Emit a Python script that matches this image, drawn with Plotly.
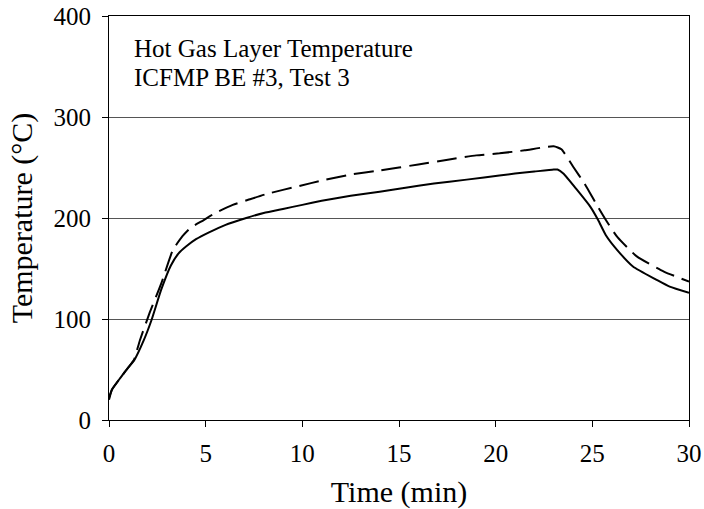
import plotly.graph_objects as go

# Data (time in min, temperature in °C)
time_solid = [0, 0.15, 0.6, 1.0, 1.3, 1.8, 2.2, 2.7, 3.2, 3.6, 4.0, 4.5, 5.2, 6.0, 7.1, 8.0, 9.0,
              10.0, 11.0, 12.5, 14.0, 15.0, 16.0, 17.6, 19.4, 21.0, 22.0, 23.0, 23.2, 23.5, 24.2,
              24.9, 25.3, 25.7, 26.3, 27.1, 28.3, 29.0, 30.0]
temp_solid = [20, 30, 42, 52, 59, 79, 99, 129, 153, 165, 172, 179, 186, 193, 200, 205, 209,
              213, 217, 222, 226, 229, 232, 236, 240, 244, 246, 248, 248, 244, 228,
              211, 198, 183, 168, 152, 139, 132, 126]

time_dash = [0, 0.15, 0.6, 1.0, 1.3, 1.6, 2.1, 2.7, 3.3, 3.8, 4.2, 4.9, 5.5, 6.4, 7.2, 8.2, 9.9,
             11.0, 12.5, 14.0, 15.0, 16.0, 17.6, 19.0, 20.2, 21.5, 23.0, 23.4, 24.0, 24.6, 25.2,
             25.7, 26.3, 27.3, 28.7, 30.0]
temp_dash = [22, 30, 42, 52, 60, 79, 106, 135, 168, 182, 190, 198, 205, 213, 218, 224, 232,
             237, 243, 247, 250, 253, 258, 262, 264, 267, 271, 268, 251, 234, 214,
             198, 181, 162, 147, 137]

x_ticks = [0, 5, 10, 15, 20, 25, 30]
y_ticks = [0, 100, 200, 300, 400]

title_lines = ["Hot Gas Layer Temperature", "ICFMP BE #3, Test 3"]

FONT = "Liberation Serif, Times New Roman, serif"
FS = 25

fig = go.Figure()
fig.add_trace(go.Scatter(x=time_dash, y=temp_dash, mode="lines",
                         line=dict(color="black", width=2, dash="20px,8px",
                                   shape="spline", smoothing=0.5),
                         showlegend=False))
fig.add_trace(go.Scatter(x=time_solid, y=temp_solid, mode="lines",
                         line=dict(color="black", width=2, shape="spline", smoothing=0.5),
                         showlegend=False))

fig.add_annotation(x=0.04, y=1 - (48.5 - 16) / 404, xref="paper", yref="paper", text=title_lines[0],
                   showarrow=False, xanchor="left", yanchor="middle",
                   font=dict(family=FONT, size=FS, color="black"))
fig.add_annotation(x=0.04, y=1 - (77 - 16) / 404, xref="paper", yref="paper", text=title_lines[1],
                   showarrow=False, xanchor="left", yanchor="middle",
                   font=dict(family=FONT, size=FS, color="black"))

fig.update_layout(
    width=704, height=509,
    margin=dict(l=109, r=15, t=16, b=89),
    paper_bgcolor="white", plot_bgcolor="white",
    font=dict(family=FONT, size=FS, color="black"),
    xaxis=dict(range=[0, 30], tickvals=x_ticks, ticks="outside", ticklen=6,
               tickcolor="black", showline=True, linecolor="black", linewidth=1,
               mirror=True, showgrid=False, zeroline=False, ticklabelstandoff=5,
               title=dict(text="Time (min)", standoff=23),
               automargin=False),
    yaxis=dict(range=[0, 400], tickvals=y_ticks, ticks="outside", ticklen=6,
               tickcolor="black", showline=True, linecolor="black", linewidth=1,
               mirror=True, showgrid=True, gridcolor="#555555", gridwidth=1,
               zeroline=False, ticklabelstandoff=6,
               title=dict(text="Temperature (°C)", standoff=12),
               automargin=False),
)

fig.write_html("out.html", config={"displayModeBar": False},
               post_script="document.body.style.margin='0';")
